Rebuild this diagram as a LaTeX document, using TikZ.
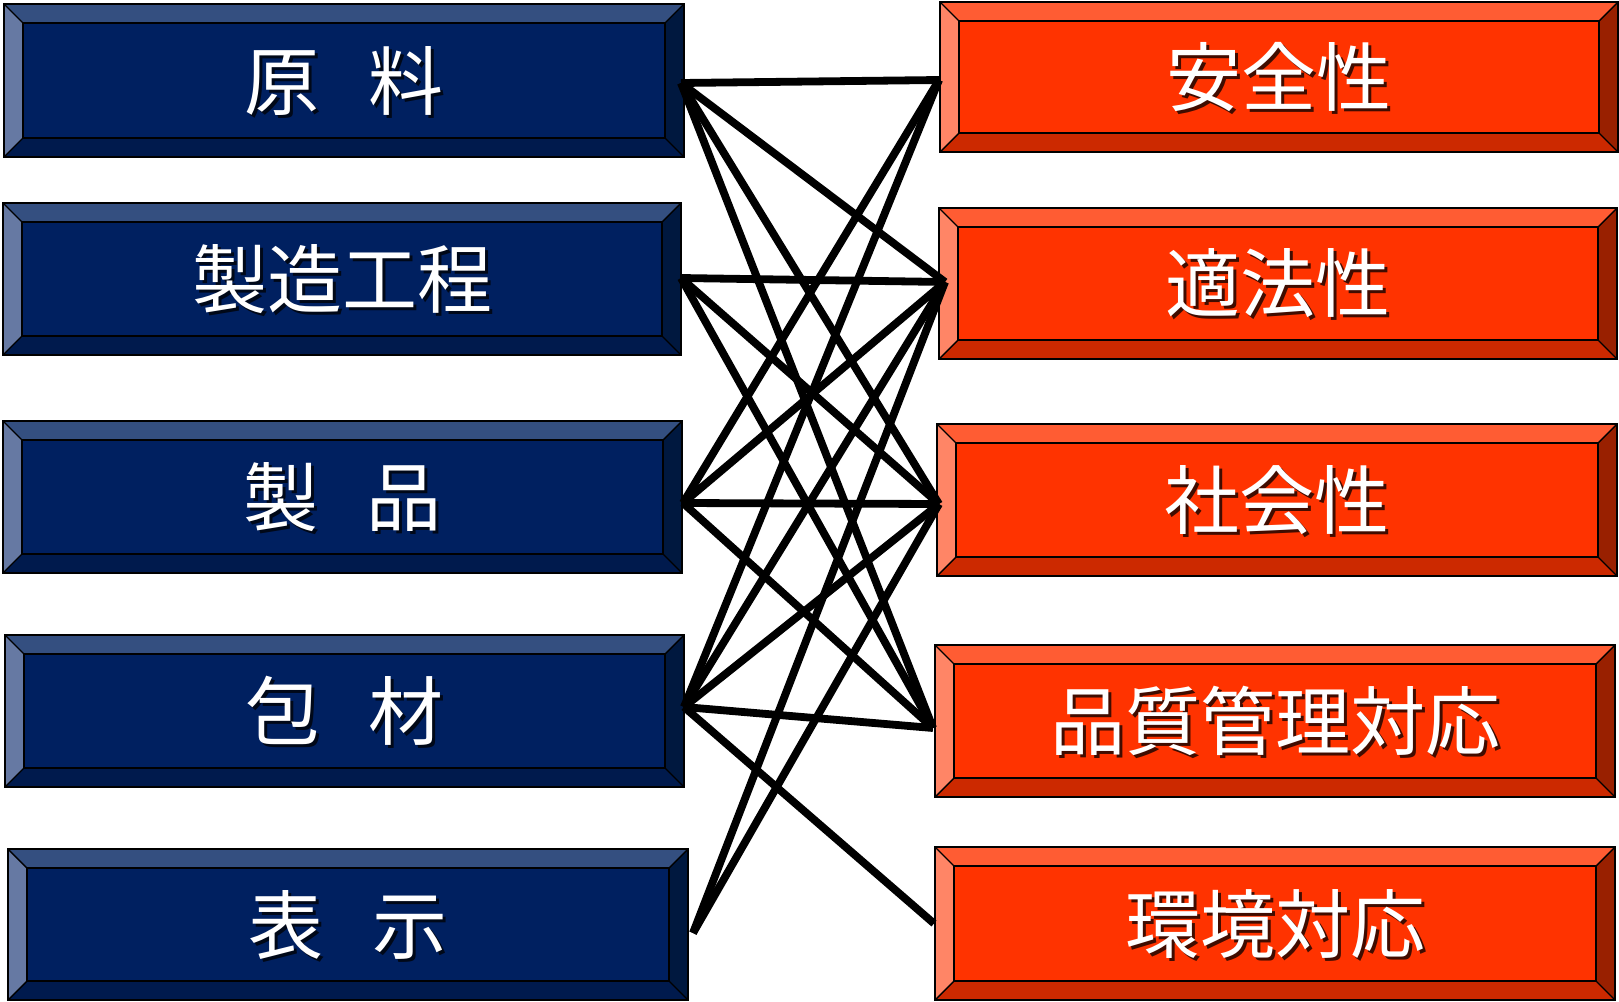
\documentclass[tikz,border=0pt]{standalone}
\usepackage{fontspec}
\newfontfamily\jpfont{Noto Sans CJK JP}
\usetikzlibrary{calc}
\definecolor{bface}{HTML}{002060}
\definecolor{btop}{HTML}{344F80}
\definecolor{bleft}{HTML}{6679A3}
\definecolor{bright}{HTML}{00183F}
\definecolor{bbottom}{HTML}{001A4D}
\definecolor{rface}{HTML}{FF3300}
\definecolor{rtop}{HTML}{FF5C33}
\definecolor{rleft}{HTML}{FF8566}
\definecolor{rright}{HTML}{992000}
\definecolor{rbottom}{HTML}{CC2900}
\tikzset{
  outline/.style={draw=black, line width=0.7pt, line join=miter},
  conn/.style={draw=black, line width=3.9pt, line cap=butt, line join=miter},
  lbl/.style={inner sep=0pt, outer sep=0pt, font=\jpfont\fontsize{37.5pt}{40pt}\selectfont},
}
% #1 name, #2 cx, #3 cy, #4 w, #5 h, #6 scheme (b or r), #7 text
\newcommand\bevbox[7]{%
  \node[inner sep=0pt, outer sep=0pt, minimum width=#4*0.5pt, minimum height=#5*0.5pt] (#1) at (#2,#3) {};
  \coordinate (#1-inw) at ([shift={(19,19)}]#1.north west);
  \coordinate (#1-ine) at ([shift={(-19,19)}]#1.north east);
  \coordinate (#1-ise) at ([shift={(-19,-19)}]#1.south east);
  \coordinate (#1-isw) at ([shift={(19,-19)}]#1.south west);
  \fill[#6top] (#1.north west) -- (#1.north east) -- (#1-ine) -- (#1-inw) -- cycle;
  \fill[#6bottom] (#1.south west) -- (#1.south east) -- (#1-ise) -- (#1-isw) -- cycle;
  \fill[#6left] (#1.north west) -- (#1.south west) -- (#1-isw) -- (#1-inw) -- cycle;
  \fill[#6right] (#1.north east) -- (#1.south east) -- (#1-ise) -- (#1-ine) -- cycle;
  \fill[#6face] (#1-inw) rectangle (#1-ise);
  \draw[outline] (#1.north west) rectangle (#1.south east);
  \draw[outline] (#1-inw) rectangle (#1-ise);
  \draw[outline] (#1.north west) -- (#1-inw) (#1.north east) -- (#1-ine)
                 (#1.south east) -- (#1-ise) (#1.south west) -- (#1-isw);
  \node[lbl, text=black, opacity=0.75] (#1-sh) at ([shift={(3,3)}]#1.center) {#7};
  \node[lbl, text=white] (#1-t) at (#1.center) {#7};
}
\newcommand\gp{\hspace{0.65em}}
\begin{document}
\begin{tikzpicture}[x=0.5pt, y=-0.5pt]
\fill[white] (0,0) rectangle (1619,1002);
\useasboundingbox (0,0) rectangle (1619,1002);

\bevbox{L1}{344}{80.5}{680}{153}{b}{原\gp 料}
\bevbox{L2}{342}{279}{678}{152}{b}{製造工程}
\bevbox{L3}{342.5}{497}{679}{152}{b}{製\gp 品}
\bevbox{L4}{344.5}{711}{679}{152}{b}{包\gp 材}
\bevbox{L5}{348}{924.5}{680}{151}{b}{表\gp 示}

\bevbox{R1}{1279}{77}{678}{150}{r}{安全性}
\bevbox{R2}{1278}{283.5}{678}{151}{r}{適法性}
\bevbox{R3}{1277}{500}{680}{152}{r}{社会性}
\bevbox{R4}{1275}{721}{680}{152}{r}{品質管理対応}
\bevbox{R5}{1275}{923.5}{680}{153}{r}{環境対応}

\coordinate (pL1) at ([shift={(-3,2.5)}]L1.east);
\coordinate (pL2) at ([shift={(0,-1)}]L2.east);
\coordinate (pL3) at ([shift={(1,6)}]L3.east);
\coordinate (pL4) at ([shift={(0,-4)}]L4.east);
\coordinate (pL5) at ([shift={(5,8.5)}]L5.east);
\coordinate (pR1) at ([shift={(-1,3)}]R1.west);
\coordinate (pR2) at ([shift={(6,-1.5)}]R2.west);
\coordinate (pR3) at ([shift={(2,4)}]R3.west);
\coordinate (pR4) at ([shift={(-2,7)}]R4.west);
\coordinate (pR5) at ([shift={(-1,0)}]R5.west);

\draw[conn] (pL1) -- (pR1);
\draw[conn] (pL1) -- (pR2);
\draw[conn] (pL1) -- (pR3);
\draw[conn] (pL1) -- (pR4);
\draw[conn] (pL2) -- (pR2);
\draw[conn] (pL2) -- (pR3);
\draw[conn] (pL2) -- (pR4);
\draw[conn] (pL3) -- (pR1);
\draw[conn] (pL3) -- (pR2);
\draw[conn] (pL3) -- (pR3);
\draw[conn] (pL3) -- (pR4);
\draw[conn] (pL4) -- (pR1);
\draw[conn] (pL4) -- (pR2);
\draw[conn] (pL4) -- (pR3);
\draw[conn] (pL4) -- (pR4);
\draw[conn] (pL4) -- (pR5);
\draw[conn] (pL5) -- (pR2);
\draw[conn] (pL5) -- (pR3);
\end{tikzpicture}
\end{document}
